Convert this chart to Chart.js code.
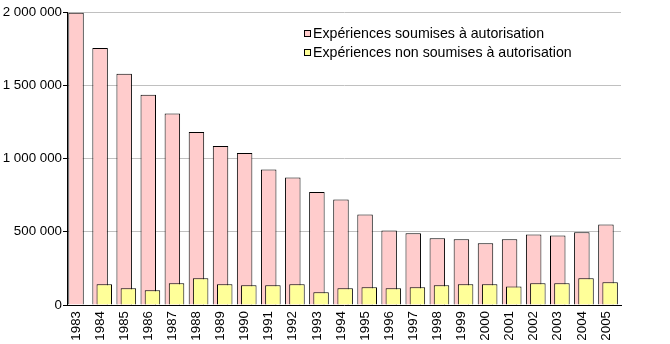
<!DOCTYPE html>
<html lang="fr">
<head>
<meta charset="utf-8">
<script src="https://cdn.jsdelivr.net/npm/chart.js@4/dist/chart.umd.min.js"></script>
<style>
  html, body { margin: 0; padding: 0; background: #fff; }
  #wrap { position: relative; width: 670px; height: 344px; }
  #legend { position: absolute; left: 304px; top: 24px; font: 14.2px "Liberation Sans", Arial, sans-serif; color: #000; }
  #legend div { height: 19px; line-height: 19px; white-space: nowrap; }
  #legend span.sw { display: inline-block; width: 5px; height: 5px; border: 1px solid #000; margin-right: 2px; vertical-align: 1px; }
</style>
</head>
<body>
<div id="wrap">
  <canvas id="c" width="670" height="344"></canvas>
  <div id="legend"></div>
</div>
<script>
// Années et nombres d'expériences
const years = [1983, 1984, 1985, 1986, 1987, 1988, 1989, 1990, 1991, 1992, 1993, 1994,
               1995, 1996, 1997, 1998, 1999, 2000, 2001, 2002, 2003, 2004, 2005];
const soumises = [1995000, 1754000, 1579000, 1436000, 1307000, 1181000, 1086000, 1038000,
                  925000, 870000, 772000, 720000, 618000, 509000, 489000, 455000, 448000,
                  421000, 448000, 482000, 475000, 496000, 550000];
const nonSoumises = [null, 141000, 114000, 100000, 148000, 182000, 141000, 134000, 134000,
                     141000, 87000, 114000, 121000, 114000, 121000, 134000, 141000, 141000,
                     127000, 148000, 148000, 182000, 155000];
const yTicks = [0, 500000, 1000000, 1500000, 2000000];
const seriesNames = ['Expériences soumises à autorisation', 'Expériences non soumises à autorisation'];
const seriesColors = ['#ffcccc', '#ffff99'];

const fmt = v => String(v).replace(/\B(?=(\d{3})+(?!\d))/g, ' ');
const pts = vals => years.map((y, i) => ({ x: y, y: vals[i] }));

Chart.defaults.font.family = '"Liberation Sans", Arial, sans-serif';
Chart.defaults.font.size = 13.33;
Chart.defaults.color = '#000';

// Two index axes over the same pixel span, shifted slightly, so that the
// pale-yellow bars overlap the right part of the pink bars.
const first = years[0], last = years[years.length - 1];

new Chart(document.getElementById('c'), {
  type: 'bar',
  data: {
    datasets: [
      { label: seriesNames[0], data: pts(soumises), xAxisID: 'xa', order: 1,
        backgroundColor: seriesColors[0], borderColor: '#000', borderWidth: 1,
        grouped: false, categoryPercentage: 1, barPercentage: 0.643 },
      { label: seriesNames[1], data: pts(nonSoumises), xAxisID: 'xb', order: 0,
        backgroundColor: seriesColors[1], borderColor: '#000', borderWidth: 1,
        grouped: false, categoryPercentage: 1, barPercentage: 0.643 }
    ]
  },
  options: {
    responsive: false,
    animation: false,
    layout: { padding: { top: 12, right: 49, left: 0, bottom: 0 } },
    plugins: { legend: { display: false }, tooltip: { enabled: false } },
    scales: {
      xa: {
        type: 'linear', position: 'bottom', offset: false, bounds: 'data',
        min: first - 0.374, max: last + 0.626,
        afterBuildTicks: s => { s.ticks = years.map(v => ({ value: v })); },
        afterFit: s => { s.height = 39; },
        grid: { display: false, drawTicks: false },
        border: { color: '#000', width: 1 },
        ticks: { autoSkip: false, minRotation: 90, maxRotation: 90, padding: 6,
                 callback: v => String(v) }
      },
      xb: {
        type: 'linear', position: 'bottom', offset: false, bounds: 'data',
        min: first - 0.548, max: last + 0.452,
        afterBuildTicks: s => { s.ticks = years.map(v => ({ value: v })); },
        afterFit: s => { s.height = 0; },
        grid: { display: false, drawTicks: false },
        border: { display: false },
        ticks: { display: false }
      },
      y: {
        min: yTicks[0], max: yTicks[yTicks.length - 1],
        afterBuildTicks: s => { s.ticks = yTicks.map(v => ({ value: v })); },
        afterFit: s => { s.width = 67; },
        grid: { color: c => c.tick && c.tick.value === 0 ? 'rgba(0,0,0,0)' : '#c0c0c0',
                tickColor: '#000', tickLength: 4 },
        border: { color: '#000', width: 1 },
        ticks: { padding: 1, callback: v => fmt(v) }
      }
    }
  }
});

// Légende
const legend = document.getElementById('legend');
seriesNames.forEach((name, i) => {
  const row = document.createElement('div');
  const sw = document.createElement('span');
  sw.className = 'sw';
  sw.style.background = seriesColors[i];
  row.appendChild(sw);
  row.appendChild(document.createTextNode(name));
  legend.appendChild(row);
});
</script>
</body>
</html>
